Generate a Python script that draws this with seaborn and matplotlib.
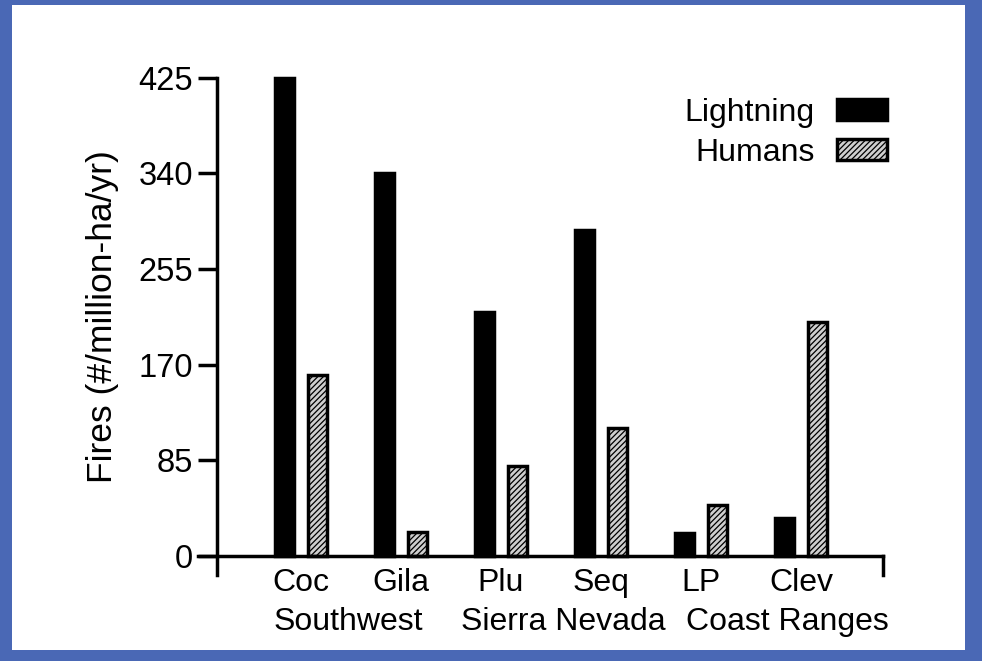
import pandas as pd
import seaborn as sns
import matplotlib.pyplot as plt
from matplotlib import rcParams
from matplotlib.patches import Rectangle
from matplotlib.transforms import blended_transform_factory

sites = ['Coc', 'Gila', 'Plu', 'Seq', 'LP', 'Clev']
regions = ['Southwest', 'Sierra Nevada', 'Coast Ranges']
sources = ['Lightning', 'Humans']
lightning = [425, 340, 217, 290, 20, 34]
humans = [161, 21, 80, 114, 45, 208]
y_ticks = [0, 85, 170, 255, 340, 425]

sns.set_style('ticks')
params = {'font.family': 'sans-serif', 'font.sans-serif': ['Liberation Sans'],
          'axes.labelsize': 25.5, 'xtick.labelsize': 23, 'ytick.labelsize': 23.5,
          'legend.fontsize': 23, 'hatch.linewidth': 0.9, 'hatch.color': 'black',
          'text.color': 'black', 'axes.labelcolor': 'black', 'axes.edgecolor': 'black',
          'xtick.color': 'black', 'ytick.color': 'black'}
rcParams.update(params)
fontsize = 23
linewidth = 2.5

fire_df = pd.DataFrame({'site': sites * 2,
                        'source': [sources[0]] * len(sites) + [sources[1]] * len(sites),
                        'fires': lightning + humans})

fig, ax = plt.subplots(figsize=(9.82, 6.61))
fig.subplots_adjust(left=0.2016, right=0.8992, bottom=0.13, top=0.8907)

#Blue slide background with the white panel on top
fig.patch.set_facecolor('#4a68b5')
panel = Rectangle((12 / 982, 11 / 661), 953 / 982, 645 / 661, transform=fig.transFigure,
                  facecolor='white', edgecolor='none', zorder=-1)
fig.patches.append(panel)

sns.barplot(data=fire_df, x='site', y='fires', hue='source', order=sites, hue_order=sources,
            palette={'Lightning': 'black', 'Humans': '#cfcfcf'}, saturation=1,
            width=0.66, gap=0.4, edgecolor='black', linewidth=linewidth,
            errorbar=None, legend=False, ax=ax)

#Hatch the human-caused bars
for bar in ax.containers[1]:
    bar.set_hatch('//////')

ax.set_xlim(-1.03, 5.82)
ax.set_ylim(-17, 430)
ax.set_yticks(y_ticks)

ax.spines['top'].set_visible(False)
ax.spines['left'].set_position(('data', -0.84))
ax.spines['left'].set_bounds(-17, 425)
ax.spines['bottom'].set_position(('data', 0))
ax.spines['right'].set_bounds(-17, 0)
for spine in ax.spines.values():
    spine.set_linewidth(linewidth)

ax.tick_params(axis='y', length=14, width=linewidth, pad=3)
ax.tick_params(axis='x', length=0, pad=9)
ax.set_xlabel('')
ax.set_ylabel('Fires (#/million-ha/yr)')
ax.yaxis.label.set_verticalalignment('center')
ax.yaxis.set_label_coords(-0.1387, 0.514)

#Region names under each pair of sites (the original sets them as one line of text)
region_x = [0.47, 2.62, 4.86]
trans = blended_transform_factory(ax.transData, ax.transAxes)
for x, region in zip(region_x, regions):
    ax.text(x, -0.093, region, transform=trans, ha='center', va='center',
            fontsize=fontsize)

ax.legend(handles=[ax.containers[0][0], ax.containers[1][0]], labels=sources,
          loc='upper right', bbox_to_anchor=(1.006, 0.9485), frameon=False,
          markerfirst=False, handlelength=1.57, handleheight=0.63, handletextpad=0.7,
          labelspacing=0.3, borderpad=0, borderaxespad=0)

fig.savefig('out.png', dpi=100)
